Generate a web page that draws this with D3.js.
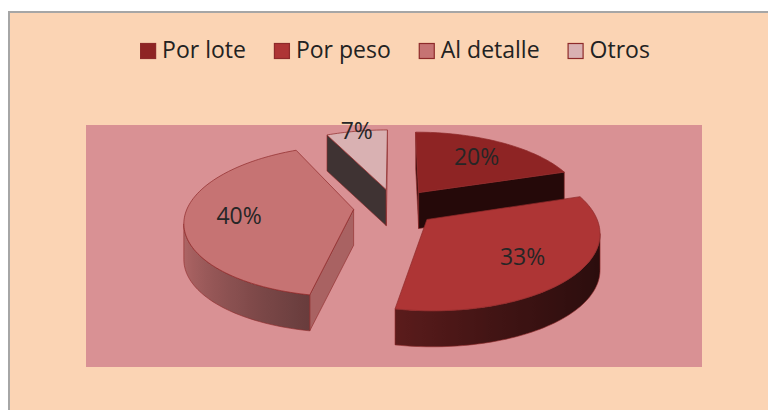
<!DOCTYPE html>
<html>
<head>
<meta charset="utf-8">
<script src="https://cdn.jsdelivr.net/npm/d3@7"></script>
<style>
  html, body { margin: 0; padding: 0; background: #fff; }
  svg { display: block; font-family: "Open Sans", sans-serif; }
</style>
</head>
<body>
<svg id="chart" width="768" height="410"></svg>
<script>
// data
const categories = ["Por lote", "Por peso", "Al detalle", "Otros"];
const shares = [20, 33, 40, 7];
const sliceLabels = ["20%", "33%", "40%", "7%"];
const palette = ["#8E2424", "#AE3535", "#C67373", "#D9B1B2"];

const width = 768, height = 410;
const svg = d3.select("#chart");
const defs = svg.append("defs");

// chart area (border only on the visible top/left)
svg.append("rect")
  .attr("x", 9).attr("y", 12)
  .attr("width", width + 20).attr("height", height + 20)
  .attr("fill", "#FBD4B4")
  .attr("stroke", "#A6A6A6")
  .attr("stroke-width", 2);

// plot area
svg.append("rect")
  .attr("x", 86).attr("y", 125)
  .attr("width", 616).attr("height", 242)
  .attr("fill", "#D99194");

// 3d pie geometry
const cx = 395, cy = 207, rx = 166, ry = 73.5;
const persp = 0.15, depth = 36, explode = 0.25;
const xs = d3.scaleLinear().domain([-1, 1]).range([cx - rx, cx + rx]);
const ys = d3.scaleLinear().domain([-1, 1]).range([cy + ry, cy - ry]);
const proj = (u, v) => {
  const w = 1 + persp * v;
  return [xs(u / w), ys(v / w)];
};
const down = p => [p[0], p[1] + depth];
const poly = pts => "M" + pts.map(p => p[0].toFixed(2) + "," + p[1].toFixed(2)).join("L") + "Z";
const shade = (c, k) => d3.color(c).darker(Math.max(0, k)).formatHex();
const edge = "#8E2A2A";

const color = d3.scaleOrdinal(categories, palette);
const arcs = d3.pie().sort(null).value(d => d.value)(
  categories.map((c, i) => ({ name: c, value: shares[i], label: sliceLabels[i] }))
);
arcs.forEach(a => {
  a.mid = (a.startAngle + a.endAngle) / 2;
  a.ou = explode * Math.sin(a.mid);
  a.ov = explode * Math.cos(a.mid);
});

// farthest slice first
const order = arcs.slice().sort((a, b) => b.ov - a.ov);
const pieG = svg.append("g");
const lightFlat = 20 * Math.PI / 180;

order.forEach((a, si) => {
  const g = pieG.append("g");
  const base = color(a.data.name);
  const n = Math.max(2, Math.ceil((a.endAngle - a.startAngle) / (Math.PI / 120)));
  const angs = d3.range(n + 1).map(i => a.startAngle + (a.endAngle - a.startAngle) * i / n);
  const V = proj(a.ou, a.ov);
  const rim = angs.map(t => proj(a.ou + Math.sin(t), a.ov + Math.cos(t)));

  // cut faces
  const radial = [
    [V, rim[0], a.startAngle - Math.PI / 2],
    [rim[n], V, a.endAngle + Math.PI / 2]
  ];
  radial.forEach(([A, B, na]) => {
    if (B[0] < A[0] - 0.01) {
      const dot = Math.sin(na) * Math.sin(lightFlat) + Math.cos(na) * Math.cos(lightFlat);
      const k = -2.5 + 7 * (1 - dot) / 2;
      g.append("path")
        .attr("d", poly([A, B, down(B), down(A)]))
        .attr("fill", shade(base, k))
        .attr("stroke", edge).attr("stroke-width", 0.6)
        .attr("stroke-linejoin", "round");
    }
  });

  // outer rim, shaded with a horizontal gradient
  const vis = d3.range(n).filter(i => rim[i + 1][0] < rim[i][0]);
  if (vis.length) {
    const i0 = d3.min(vis), i1 = d3.max(vis) + 1;
    const topPts = rim.slice(i0, i1 + 1);
    const x1 = topPts[0][0], x2 = topPts[topPts.length - 1][0];
    const gid = "rim-" + si;
    const grad = defs.append("linearGradient")
      .attr("id", gid)
      .attr("gradientUnits", "userSpaceOnUse")
      .attr("x1", x1).attr("y1", 0).attr("x2", x2).attr("y2", 0);
    d3.range(i0, i1 + 1).forEach(i => {
      const k = 0.3 + 3.7 * (1 + Math.sin(angs[i])) / 2;
      grad.append("stop")
        .attr("offset", (rim[i][0] - x1) / (x2 - x1))
        .attr("stop-color", shade(base, k));
    });
    const botPts = topPts.map(down).reverse();
    g.append("path")
      .attr("d", poly(topPts.concat(botPts)))
      .attr("fill", `url(#${gid})`)
      .attr("stroke", edge).attr("stroke-width", 0.6);
  }

  // top face
  g.append("path")
    .attr("d", poly([V].concat(rim)))
    .attr("fill", base)
    .attr("stroke", edge).attr("stroke-width", 0.7)
    .attr("stroke-linejoin", "round");
});

// data labels
svg.append("g").selectAll("text")
  .data(arcs)
  .join("text")
  .attr("text-anchor", "middle")
  .attr("font-size", 23)
  .attr("fill", "#262626")
  .each(function (a) {
    const r = a.value < 10 ? 1.0 : 0.68;
    const p = proj(a.ou + r * Math.sin(a.mid), a.ov + r * Math.cos(a.mid));
    d3.select(this).attr("x", p[0]).attr("y", p[1] + 8);
  })
  .text(a => a.data.label);

// legend
const legend = svg.append("g");
let lx = 0;
categories.forEach((c, i) => {
  const item = legend.append("g").attr("transform", `translate(${lx},0)`);
  item.append("rect")
    .attr("x", 0.5).attr("y", 43.5)
    .attr("width", 15).attr("height", 15)
    .attr("fill", palette[i])
    .attr("stroke", edge).attr("stroke-width", 1.2);
  const t = item.append("text")
    .attr("x", 22).attr("y", 58)
    .attr("font-size", 23)
    .attr("fill", "#222")
    .text(c);
  lx += 22 + t.node().getComputedTextLength() + 28;
});
legend.attr("transform", `translate(${cx - (lx - 28) / 2},0)`);
</script>
</body>
</html>
